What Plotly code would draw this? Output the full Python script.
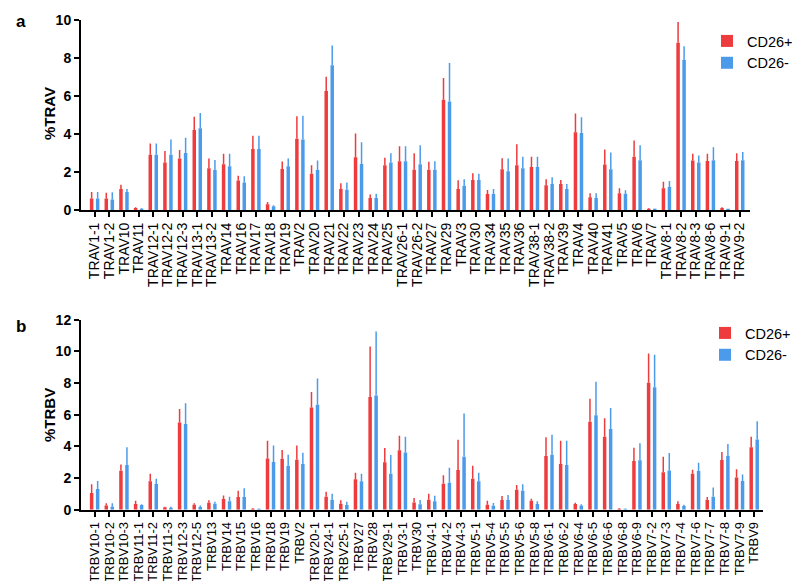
import plotly.graph_objects as go

trav_cats = ["TRAV1-1", "TRAV1-2", "TRAV10", "TRAV11", "TRAV12-1", "TRAV12-2", "TRAV12-3", "TRAV13-1",
             "TRAV13-2", "TRAV14", "TRAV16", "TRAV17", "TRAV18", "TRAV19", "TRAV2",
             "TRAV20", "TRAV21", "TRAV22", "TRAV23", "TRAV24", "TRAV25", "TRAV26-1", "TRAV26-2",
             "TRAV27", "TRAV29", "TRAV3", "TRAV30", "TRAV34", "TRAV35", "TRAV36",
             "TRAV38-1", "TRAV38-2", "TRAV39", "TRAV4", "TRAV40", "TRAV41", "TRAV5", "TRAV6",
             "TRAV7", "TRAV8-1", "TRAV8-2", "TRAV8-3", "TRAV8-6", "TRAV9-1", "TRAV9-2"]
trav_pos_mean = [0.6, 0.6, 1.1, 0.1, 2.9, 2.5, 2.7, 4.2, 2.2, 2.4, 1.55, 3.2, 0.3, 2.15, 3.75,
                 1.9, 6.25, 1.1, 2.77, 0.63, 2.35, 2.56, 2.12, 2.12, 5.8, 1.1, 1.58, 0.84, 2.14, 2.35,
                 2.26, 1.3, 1.37, 4.09, 0.67, 2.39, 0.88, 2.8, 0.07, 1.14, 8.79, 2.6, 2.58, 0.1, 2.58]
trav_pos_upper = [0.95, 0.9, 1.33, 0.15, 3.5, 3.1, 3.15, 4.9, 2.7, 2.95, 1.8, 3.9, 0.42, 2.55, 4.93,
                  2.35, 7.0, 1.4, 4.02, 0.82, 2.74, 3.35, 2.98, 2.53, 6.93, 1.56, 1.93, 1.05, 2.72, 3.46,
                  2.8, 1.61, 1.58, 5.07, 0.88, 3.18, 1.14, 3.65, 0.1, 1.49, 9.88, 2.96, 2.95, 0.14, 2.98]
trav_neg_mean = [0.6, 0.55, 0.95, 0.07, 2.9, 2.9, 3.0, 4.3, 2.1, 2.3, 1.45, 3.2, 0.2, 2.3, 3.7,
                 2.1, 7.6, 1.07, 2.42, 0.63, 2.5, 2.56, 2.4, 2.12, 5.7, 1.28, 1.58, 0.84, 2.04, 2.2,
                 2.26, 1.37, 1.1, 4.04, 0.63, 2.14, 0.86, 2.61, 0.05, 1.21, 7.88, 2.5, 2.61, 0.04, 2.61]
trav_neg_upper = [0.95, 0.93, 1.1, 0.1, 3.5, 3.7, 3.8, 5.1, 2.63, 2.95, 1.77, 3.9, 0.25, 2.7, 4.95,
                  2.6, 8.65, 1.44, 3.56, 0.86, 2.98, 3.35, 3.4, 2.56, 7.72, 1.61, 1.91, 1.1, 2.7, 2.8,
                  2.8, 1.72, 1.37, 4.88, 0.88, 3.02, 1.04, 3.4, 0.06, 1.53, 8.6, 2.86, 3.3, 0.05, 3.05]

trbv_cats = ["TRBV10-1", "TRBV10-2", "TRBV10-3", "TRBV11-1", "TRBV11-2", "TRBV11-3", "TRBV12-3",
             "TRBV12-5", "TRBV13", "TRBV14", "TRBV15", "TRBV16", "TRBV18", "TRBV19", "TRBV2",
             "TRBV20-1", "TRBV24-1", "TRBV25-1", "TRBV27", "TRBV28", "TRBV29-1", "TRBV3-1", "TRBV30",
             "TRBV4-1", "TRBV4-2", "TRBV4-3", "TRBV5-1", "TRBV5-4", "TRBV5-5", "TRBV5-6",
             "TRBV5-8", "TRBV6-1", "TRBV6-2", "TRBV6-4", "TRBV6-5", "TRBV6-6", "TRBV6-8", "TRBV6-9",
             "TRBV7-2", "TRBV7-3", "TRBV7-4", "TRBV7-6", "TRBV7-7", "TRBV7-8", "TRBV7-9", "TRBV9"]
trbv_pos_mean = [1.05, 0.27, 2.46, 0.36, 1.79, 0.15, 5.5, 0.32, 0.44, 0.67, 0.8, 0.06, 3.24, 3.22, 3.16,
                 6.46, 0.82, 0.38, 1.92, 7.12, 2.99, 3.75, 0.46, 0.63, 1.64, 2.5, 1.96, 0.32, 0.61, 1.26,
                 0.57, 3.39, 2.88, 0.36, 5.56, 4.61, 0.06, 3.07, 8.02, 2.36, 0.36, 2.27, 0.61, 3.14, 2.04, 3.94]
trbv_pos_upper = [1.6, 0.4, 2.86, 0.57, 2.27, 0.19, 6.36, 0.4, 0.59, 0.9, 1.2, 0.1, 4.36, 3.77, 4.06,
                  7.43, 1.14, 0.59, 2.34, 10.3, 3.89, 4.67, 0.74, 1.01, 2.17, 4.42, 2.78, 0.57, 0.86, 1.56,
                  0.69, 4.57, 4.36, 0.44, 7.01, 5.77, 0.1, 3.92, 9.87, 3.35, 0.53, 2.53, 0.8, 3.64, 2.55, 4.61]
trbv_neg_mean = [1.3, 0.19, 2.82, 0.3, 1.62, 0.08, 5.41, 0.17, 0.38, 0.53, 0.8, 0.04, 3.01, 2.78, 2.88,
                 6.63, 0.63, 0.29, 1.79, 7.22, 2.27, 3.62, 0.34, 0.53, 1.7, 3.35, 1.79, 0.25, 0.61, 1.2,
                 0.36, 3.45, 2.82, 0.27, 5.96, 5.09, 0.04, 3.12, 7.73, 2.48, 0.23, 2.44, 0.82, 3.41, 1.81, 4.44]
trbv_neg_upper = [1.81, 0.4, 3.94, 0.34, 1.96, 0.19, 6.72, 0.27, 0.5, 0.82, 1.35, 0.06, 4.06, 3.47, 3.6,
                  8.29, 1.01, 0.5, 2.27, 11.26, 3.45, 4.61, 0.61, 0.88, 2.65, 6.08, 2.34, 0.42, 0.93, 1.6,
                  0.53, 4.74, 4.36, 0.34, 8.08, 6.42, 0.06, 4.19, 9.79, 3.58, 0.32, 2.97, 1.41, 4.15, 2.23, 5.58]

RED = "#EE3B3D"
BLUE = "#4C9BEB"
FONT = "Liberation Sans, Arial, sans-serif"


def bar(x, mean, upper, name, color, xa, ya, legend):
    return go.Bar(
        x=x, y=mean, name=name, marker=dict(color=color, line=dict(width=0)),
        error_y=dict(type="data", array=[u - m for u, m in zip(upper, mean)],
                     arrayminus=[0] * len(mean), symmetric=False,
                     color=color, thickness=1.5, width=0),
        xaxis=xa, yaxis=ya, legend=legend,
    )


fig = go.Figure()
fig.add_trace(bar(trav_cats, trav_pos_mean, trav_pos_upper, "CD26+", RED, "x", "y", "legend"))
fig.add_trace(bar(trav_cats, trav_neg_mean, trav_neg_upper, "CD26-", BLUE, "x", "y", "legend"))
fig.add_trace(bar(trbv_cats, trbv_pos_mean, trbv_pos_upper, "CD26+", RED, "x2", "y2", "legend2"))
fig.add_trace(bar(trbv_cats, trbv_neg_mean, trbv_neg_upper, "CD26-", BLUE, "x2", "y2", "legend2"))

W, H = 800, 581


def px_x(p):
    return p / W


def px_y(p):
    return 1 - p / H


xcommon = dict(type="category", showline=True, linecolor="black", linewidth=2,
               ticks="outside", ticklen=5, tickwidth=1.5, tickcolor="black",
               tickmode="linear", dtick=1, tickangle=-90,
               showgrid=False, zeroline=False, automargin=False)
ycommon = dict(showline=True, linecolor="black", linewidth=2,
               ticks="outside", ticklen=5, tickwidth=2, tickcolor="black",
               tickfont=dict(family=FONT, size=14, color="black", weight="bold"),
               showgrid=False, zeroline=False, automargin=False, dtick=2)

fig.update_layout(
    width=W, height=H,
    margin=dict(l=0, r=0, t=0, b=0),
    paper_bgcolor="white", plot_bgcolor="white",
    barmode="group", bargap=0.18, bargroupgap=0.42,
    font=dict(family=FONT, color="black"),
    xaxis=dict(xcommon, domain=[px_x(73), px_x(742)], range=[-0.93, 44.7], anchor="y",
               tickfont=dict(family=FONT, size=14, color="black")),
    yaxis=dict(ycommon, domain=[px_y(202), px_y(11.7)], range=[0, 10], anchor="x"),
    xaxis2=dict(xcommon, domain=[px_x(73), px_x(755)], range=[-0.93, 45.6], anchor="y2",
                tickfont=dict(family=FONT, size=13, color="black")),
    yaxis2=dict(ycommon, domain=[px_y(501.7), px_y(311.7)], range=[0, 12], anchor="x2"),
    legend=dict(x=px_x(699), y=px_y(17), xanchor="left", yanchor="top",
                font=dict(family=FONT, size=14.5, color="black"), bgcolor="rgba(0,0,0,0)",
                itemclick=False),
    legend2=dict(x=px_x(697), y=px_y(309), xanchor="left", yanchor="top",
                 font=dict(family=FONT, size=14.5, color="black"), bgcolor="rgba(0,0,0,0)",
                 itemclick=False),
    annotations=[
        dict(text="<b>a</b>", x=px_x(13), y=px_y(14), xref="paper", yref="paper",
             xanchor="center", yanchor="middle",
             showarrow=False, font=dict(family=FONT, size=17, color="black")),
        dict(text="<b>b</b>", x=px_x(13), y=px_y(318), xref="paper", yref="paper",
             xanchor="center", yanchor="middle",
             showarrow=False, font=dict(family=FONT, size=17, color="black")),
        dict(text="<b>%TRAV</b>", x=px_x(41), y=px_y(106), xref="paper", yref="paper",
             xanchor="center", yanchor="middle",
             textangle=-90, showarrow=False, font=dict(family=FONT, size=15, color="black")),
        dict(text="<b>%TRBV</b>", x=px_x(41), y=px_y(407), xref="paper", yref="paper",
             xanchor="center", yanchor="middle",
             textangle=-90, showarrow=False, font=dict(family=FONT, size=15, color="black")),
    ],
)

fig.write_html("out.html")
